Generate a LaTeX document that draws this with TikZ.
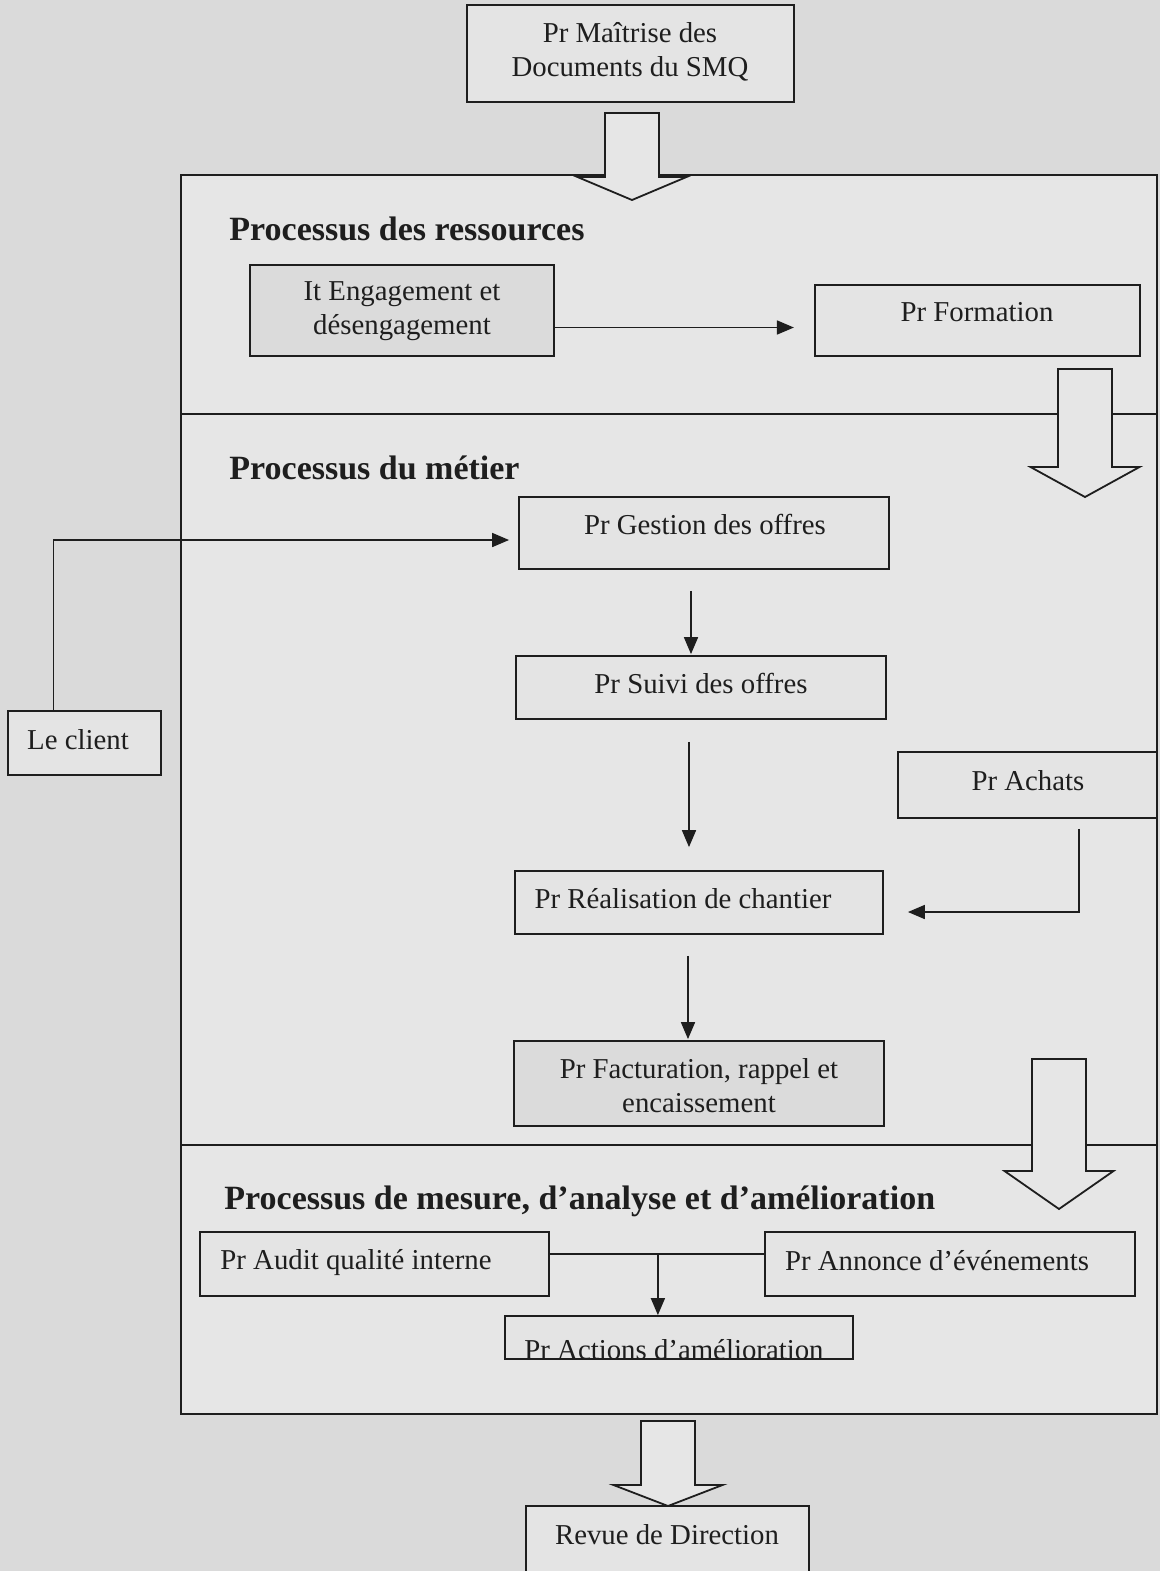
\documentclass[tikz,border=0pt]{standalone}
\usepackage{fontspec}
\setmainfont{Liberation Serif}
\usetikzlibrary{arrows.meta,fit,calc}
\definecolor{outbg}{HTML}{DADADA}
\definecolor{inbg}{HTML}{E6E6E6}
\definecolor{boxbg}{HTML}{E4E4E4}
\definecolor{boxdk}{HTML}{DBDBDB}
\definecolor{ink}{HTML}{1E1E1E}
\newcommand\hollowarr[4]{%
  \draw[harrow] (#1-27,#2) -- (#1+27,#2) -- (#1+27,#3) -- (#1+54.5,#3) -- (#1,#4) -- (#1-54.5,#3) -- (#1-27,#3) -- cycle;}
\begin{document}
\begin{tikzpicture}[x=0.5pt,y=-0.5pt,
 bx/.style={draw=ink, line width=0.9pt, fill=boxbg, inner sep=0pt},
 txt/.style={font=\fontsize{14.4}{17}\selectfont, text=ink, inner sep=0pt, align=center},
 ttl/.style={font=\fontsize{17}{20}\selectfont\bfseries, text=ink, inner sep=0pt, anchor=base west},
 arr/.style={draw=ink, line width=0.85pt, -{Triangle[length=8.5pt,width=7pt]}},
 ln/.style={draw=ink, line width=0.85pt},
 frm/.style={draw=ink, line width=0.9pt},
 harrow/.style={draw=ink, line width=0.9pt, fill=inbg, line join=miter}]
\useasboundingbox (0,0) rectangle (1160,1571);
\clip (0,0) rectangle (1160,1571);
\fill[outbg] (0,0) rectangle (1160,1571);
% frame
\fill[inbg] (181,175) rectangle (1157,1414);
\draw[frm] (181,175) rectangle (1157,1414);
\draw[frm] (181,414) -- (1157,414);
\draw[frm] (181,1145) -- (1157,1145);
% top box
\node[bx, fit={(467,5) (794,102)}] (maitrise) {};
\node[txt] (maitrise-t) at (630,52) {Pr Maîtrise des\\Documents du SMQ};
% section titles
\node[ttl] (t1) at (229,240) {Processus des ressources};
\node[ttl] (t2) at (229,479) {Processus du métier};
\node[ttl] (t3) at (224,1209) {Processus de mesure, d’analyse et d’amélioration};
% resources
\node[bx, fill=boxdk, fit={(250,265) (554,356)}] (engage) {};
\node[txt] (engage-t) at (402,311) {It Engagement et\\désengagement};
\node[bx, fit={(815,285) (1140,356)}] (formation) {};
\node[txt] (formation-t) at (977,312) {Pr Formation};
% metier
\node[bx, fit={(519,497) (889,569)}] (gestion) {};
\node[txt] (gestion-t) at (705,524) {Pr Gestion des offres};
\node[bx, fit={(8,711) (161,775)}] (client) {};
\node[txt] (client-t) at (78,740) {Le client};
\node[bx, fit={(516,656) (886,719)}] (suivi) {};
\node[txt] (suivi-t) at (701,683) {Pr Suivi des offres};
\node[bx, fit={(898,752) (1157,818)}] (achats) {};
\node[txt] (achats-t) at (1028,781) {Pr Achats};
\node[bx, fit={(515,871) (883,934)}] (realis) {};
\node[txt] (realis-t) at (683,899) {Pr Réalisation de chantier};
\node[bx, fill=boxdk, fit={(514,1041) (884,1126)}] (factur) {};
\node[txt] (factur-t) at (699,1086) {Pr Facturation, rappel et\\encaissement};
% mesure
\node[bx, fit={(200,1232) (549,1296)}] (audit) {};
\node[txt] (audit-t) at (356,1263) {Pr Audit qualité interne};
\node[bx, fit={(765,1232) (1135,1296)}] (annonce) {};
\node[txt] (annonce-t) at (937,1261) {Pr Annonce d’événements};
\node[bx, fit={(505,1316) (853,1359)}] (actions) {};
\begin{scope}
\clip (505,1316) rectangle (853,1357);
\node[txt] (actions-t) at (674,1350) {Pr Actions d’amélioration};
\end{scope}
% revue
\node[bx, fit={(526,1506) (809,1580)}] (revue) {};
\node[txt] (revue-t) at (667,1535) {Revue de Direction};
% connectors
\draw[arr] ([shift={(0,17)}]engage.east) -- ++(239,0);
\draw[arr] ([shift={(-31,0)}]client.north) |- ([shift={(-9,7)}]gestion.west);
\draw[arr] ([shift={(-13,21)}]gestion.south) -- ([shift={(-10,-1)}]suivi.north);
\draw[arr] ([shift={(-12,22)}]suivi.south) -- ([shift={(-10,-23)}]realis.north);
\draw[arr] ([shift={(-11,21)}]realis.south) -- ([shift={(-11,-1)}]factur.north);
\draw[arr] ([shift={(51.5,10)}]achats.south) |- ([shift={(24,9.5)}]realis.east);
\draw[ln] ([shift={(0,-10)}]audit.east) -- ([shift={(0,-10)}]annonce.west);
\coordinate (j) at ([shift={(108,-10)}]audit.east);
\draw[arr] (j) -- (j |- actions.north);
% hollow arrows
\hollowarr{632}{113}{177}{200}
\hollowarr{1085}{369}{467}{497}
\hollowarr{1059}{1059}{1171}{1209}
\hollowarr{668}{1421}{1485}{1506}
\end{tikzpicture}
\end{document}
